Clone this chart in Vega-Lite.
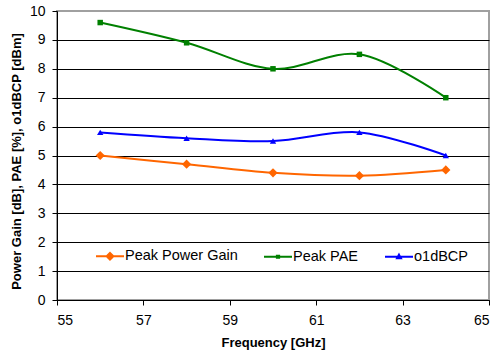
{
  "$schema": "https://vega.github.io/schema/vega-lite/v6.json",
  "width": 432,
  "height": 289,
  "autosize": "none",
  "padding": {"left": 57, "top": 11, "right": 9, "bottom": 54},
  "background": "white",
  "config": {
    "font": "Liberation Sans",
    "view": {"stroke": "#a0a0a0", "strokeWidth": 2},
    "legend": {
      "orient": "none",
      "legendX": 38,
      "legendY": 230,
      "direction": "horizontal",
      "padding": 0,
      "symbolSize": 784,
      "symbolStrokeWidth": 2,
      "symbolOpacity": 1,
      "labelFontSize": 14.5,
      "labelColor": "black",
      "labelOffset": 0,
      "columnPadding": 22
    }
  },
  "data": {
    "values": [
      {"freq": 56, "value": 5.0, "series": "Peak Power Gain"},
      {"freq": 58, "value": 4.7, "series": "Peak Power Gain"},
      {"freq": 60, "value": 4.4, "series": "Peak Power Gain"},
      {"freq": 62, "value": 4.3, "series": "Peak Power Gain"},
      {"freq": 64, "value": 4.5, "series": "Peak Power Gain"},
      {"freq": 56, "value": 9.6, "series": "Peak PAE"},
      {"freq": 58, "value": 8.9, "series": "Peak PAE"},
      {"freq": 60, "value": 8.0, "series": "Peak PAE"},
      {"freq": 62, "value": 8.5, "series": "Peak PAE"},
      {"freq": 64, "value": 7.0, "series": "Peak PAE"},
      {"freq": 56, "value": 5.8, "series": "o1dBCP"},
      {"freq": 58, "value": 5.6, "series": "o1dBCP"},
      {"freq": 60, "value": 5.5, "series": "o1dBCP"},
      {"freq": 62, "value": 5.8, "series": "o1dBCP"},
      {"freq": 64, "value": 5.0, "series": "o1dBCP"}
    ]
  },
  "encoding": {
    "x": {
      "field": "freq",
      "type": "quantitative",
      "scale": {"domain": [55, 65], "nice": false, "zero": false},
      "axis": {
        "values": [55, 57, 59, 61, 63, 65],
        "format": "d",
        "grid": false,
        "domainColor": "black",
        "tickColor": "black",
        "tickSize": 5,
        "labelFontSize": 14,
        "labelColor": "black",
        "labelPadding": 8,
        "title": "Frequency [GHz]",
        "titleFontSize": 13,
        "titleFontWeight": "bold",
        "titleColor": "black",
        "titlePadding": 9
      }
    },
    "y": {
      "field": "value",
      "type": "quantitative",
      "scale": {"domain": [0, 10], "nice": false},
      "axis": {
        "values": [0, 1, 2, 3, 4, 5, 6, 7, 8, 9, 10],
        "grid": true,
        "gridColor": {"condition": {"test": "datum.value === 10", "value": "#a0a0a0"}, "value": "black"},
        "gridOpacity": 1,
        "domainColor": "black",
        "tickColor": "black",
        "tickSize": 5,
        "labelFontSize": 14,
        "labelColor": "black",
        "labelPadding": 7,
        "title": "Power Gain [dB], PAE [%], o1dBCP [dBm]",
        "titleFontSize": 13,
        "titleFontWeight": "bold",
        "titleColor": "black",
        "titlePadding": 6,
        "titleY": 150
      }
    }
  },
  "layer": [
    {
      "mark": {"type": "line", "interpolate": "catmull-rom", "strokeWidth": 2},
      "encoding": {
        "stroke": {"field": "series", "type": "nominal", "scale": {"domain": ["Peak Power Gain", "Peak PAE", "o1dBCP"], "range": ["#FF6600", "#008000", "#0000FF"]}, "legend": {"title": null, "columns": 3}}
      }
    },
    {
      "transform": [{"filter": "datum.series === 'Peak Power Gain'"}],
      "mark": {"type": "point", "filled": true, "opacity": 1, "shape": "diamond", "size": 85},
      "encoding": {
        "fill": {"field": "series", "type": "nominal", "scale": {"domain": ["Peak Power Gain", "Peak PAE", "o1dBCP"], "range": ["#FF6600", "#008000", "#0000FF"]}, "legend": {"title": null, "columns": 3}}
      }
    },
    {
      "transform": [{"filter": "datum.series === 'Peak PAE'"}],
      "mark": {"type": "point", "filled": true, "opacity": 1, "shape": "square", "size": 30},
      "encoding": {
        "fill": {"field": "series", "type": "nominal", "scale": {"domain": ["Peak Power Gain", "Peak PAE", "o1dBCP"], "range": ["#FF6600", "#008000", "#0000FF"]}, "legend": {"title": null, "columns": 3}}
      }
    },
    {
      "transform": [{"filter": "datum.series === 'o1dBCP'"}],
      "mark": {"type": "point", "filled": true, "opacity": 1, "shape": "triangle-up", "size": 40},
      "encoding": {
        "fill": {"field": "series", "type": "nominal", "scale": {"domain": ["Peak Power Gain", "Peak PAE", "o1dBCP"], "range": ["#FF6600", "#008000", "#0000FF"]}, "legend": {"title": null, "columns": 3}}
      }
    },
    {
      "mark": {"type": "point", "filled": true, "opacity": 0},
      "encoding": {
        "fill": {"field": "series", "type": "nominal", "scale": {"domain": ["Peak Power Gain", "Peak PAE", "o1dBCP"], "range": ["#FF6600", "#008000", "#0000FF"]}, "legend": {"title": null, "columns": 3}},
        "stroke": {"field": "series", "type": "nominal", "scale": {"domain": ["Peak Power Gain", "Peak PAE", "o1dBCP"], "range": ["#FF6600", "#008000", "#0000FF"]}, "legend": {"title": null, "columns": 3}},
        "shape": {"field": "series", "type": "nominal", "scale": {"domain": ["Peak Power Gain", "Peak PAE", "o1dBCP"], "range": ["M-1,0L1,0M0,-0.24L0.24,0L0,0.24L-0.24,0Z", "M-1,0L1,0M-0.08,-0.08L0.08,-0.08L0.08,0.08L-0.08,0.08Z", "M-1,0L1,0M0,-0.15L0.14,0.1L-0.14,0.1Z"]}, "legend": {"title": null, "columns": 3}}
      }
    }
  ]
}
